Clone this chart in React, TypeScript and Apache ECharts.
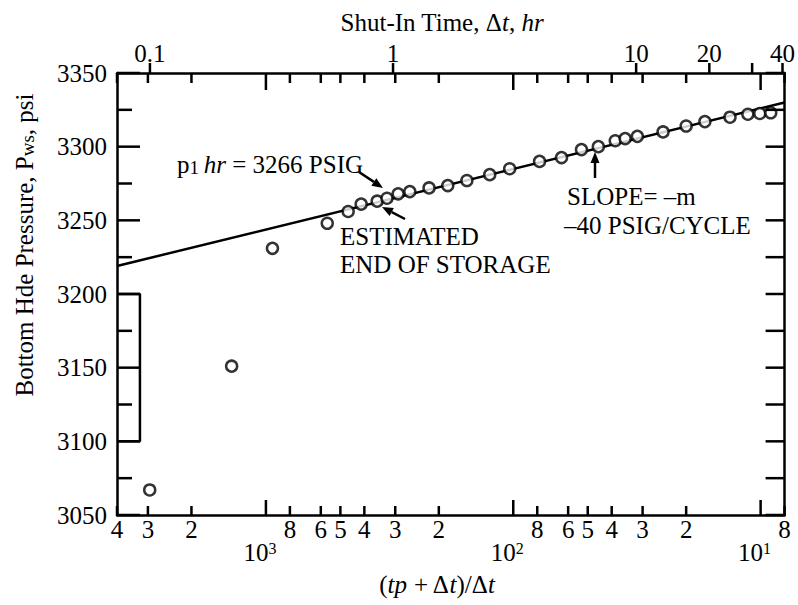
import React, { useEffect, useRef } from 'react';
import * as echarts from 'echarts';

// Horner time (tp + Δt)/Δt and shut-in bottom-hole pressure
const hornerTime = [2950, 1376, 941, 565, 465, 412, 355, 324, 292, 262, 219, 184, 154, 124.5, 103.4, 78.3, 63.8, 53.0, 45.3, 38.7, 35.3, 31.5, 24.8, 20.0, 16.8, 13.3, 11.26, 10.08, 9.1];
const pressure = [3067, 3151, 3231, 3248, 3256, 3261, 3263, 3265, 3268, 3269.5, 3272, 3273.6, 3277, 3281, 3285, 3290, 3292.6, 3298, 3300, 3304, 3305.5, 3307, 3310, 3314, 3317, 3320, 3322, 3322.5, 3323];

// Semilog straight line (slope -40 psi/cycle)
const fitLineR = [4000, 8];
const fitLineP = [3219, 3330];

// Bracket on the left
const bracketR = [4000, 3231, 3231, 4000];
const bracketP = [3200, 3200, 3100, 3100];

// Bottom axis ticks
const hornerMinorTicks = [4000, 3000, 2000, 800, 600, 500, 400, 300, 200, 80, 60, 50, 40, 30, 20, 8];
const hornerMinorLabels = ['4', '3', '2', '8', '6', '5', '4', '3', '2', '8', '6', '5', '4', '3', '2', '8'];
const hornerDecadeTicks = [1000, 100, 10];
const hornerDecadeExponents = ['3', '2', '1'];

// Top axis (shut-in time)
const shutInTicks = [0.1, 1, 10, 20, 30, 40];
const shutInLabelValues = [0.1, 1, 10, 20, 40];
const shutInLabels = ['0.1', '1', '10', '20', '40'];

// Pressure axis ticks
const pressureMajorTicks = [3050, 3100, 3150, 3200, 3250, 3300, 3350];
const pressureMinorTicks = [3075, 3125, 3175, 3225, 3275, 3325];

const pressureMin = 3050;
const pressureMax = 3350;
const pressureStep = 50;
const hornerMin = 8;
const hornerMax = 4000;
const shutInMin = 0.0732;
const shutInMax = 40.8;

const FONT = "'Liberation Serif', 'Times New Roman', serif";
const FS = 25;
const BLACK = '#000';

function lookup(values: number[], labels: string[]) {
  return (v: number) => {
    const i = values.findIndex((x) => Math.abs(x - v) / x < 1e-6);
    return i >= 0 ? labels[i] : '';
  };
}

function seg(x1: number, y1: number, x2: number, y2: number, color = BLACK) {
  return { type: 'line', silent: true, z: 50, shape: { x1, y1, x2, y2 }, style: { stroke: color, lineWidth: 2.5 } };
}

function arrow(x1: number, y1: number, x2: number, y2: number) {
  const dx = x2 - x1;
  const dy = y2 - y1;
  const len = Math.sqrt(dx * dx + dy * dy);
  const ux = dx / len;
  const uy = dy / len;
  const hl = 11;
  const hw = 4.5;
  const bx = x2 - ux * hl;
  const by = y2 - uy * hl;
  return [
    seg(x1, y1, bx, by),
    {
      type: 'polygon',
      z: 50,
      shape: { points: [[x2, y2], [bx - uy * hw, by + ux * hw], [bx + uy * hw, by - ux * hw]] },
      style: { fill: BLACK },
    },
  ];
}

const baseText = { fontFamily: FONT, fontSize: FS, color: BLACK };
const richBase = {
  n: { fontFamily: FONT, fontSize: FS, fill: BLACK },
  i: { fontFamily: FONT, fontSize: FS, fontStyle: 'italic', fill: BLACK },
  sub: { fontFamily: FONT, fontSize: 19, fill: BLACK, verticalAlign: 'bottom' },
};

export default function App() {
  const ref = useRef<HTMLDivElement>(null);
  useEffect(() => {
    if (!ref.current) return;
    const chart = echarts.init(ref.current, undefined, { renderer: 'svg' });
    const logBottom = {
      type: 'log',
      logBase: 10,
      inverse: true,
      min: hornerMin,
      max: hornerMax,
      splitLine: { show: false },
      minorTick: { show: false },
      minorSplitLine: { show: false },
      axisTick: { show: false },
    };
    chart.setOption({
      animation: false,
      grid: { left: 117, right: 12, top: 73, bottom: 90 },
      xAxis: [
        {
          ...logBottom,
          position: 'bottom',
          axisLine: { show: true, lineStyle: { color: BLACK, width: 2.5 } },
          axisLabel: {
            show: true,
            customValues: hornerMinorTicks,
            formatter: lookup(hornerMinorTicks, hornerMinorLabels),
            margin: 2,
            ...baseText,
          },
        },
        {
          ...logBottom,
          position: 'bottom',
          axisLine: { show: false },
          axisLabel: {
            show: true,
            customValues: hornerDecadeTicks,
            formatter: (v: number) => `{b|10}{s|${lookup(hornerDecadeTicks, hornerDecadeExponents)(v)}}`,
            margin: 25,
            padding: [0, 12, 0, 0],
            rich: {
              b: { fontFamily: FONT, fontSize: FS, color: BLACK },
              s: { fontFamily: FONT, fontSize: 16, color: BLACK, verticalAlign: 'top' },
            },
          },
        },
        {
          ...logBottom,
          position: 'top',
          axisLine: { show: true, lineStyle: { color: BLACK, width: 2.5 } },
          axisLabel: { show: false },
        },
        {
          type: 'log',
          logBase: 10,
          position: 'top',
          min: shutInMin,
          max: shutInMax,
          splitLine: { show: false },
          minorTick: { show: false },
          axisLine: { show: false },
          axisTick: { show: false },
          axisLabel: {
            show: true,
            customValues: shutInLabelValues,
            formatter: lookup(shutInLabelValues, shutInLabels),
            margin: 7,
            ...baseText,
          },
        },
      ],
      yAxis: [
        {
          type: 'value',
          position: 'left',
          min: pressureMin,
          max: pressureMax,
          interval: pressureStep,
          splitLine: { show: false },
          axisLine: { show: true, lineStyle: { color: BLACK, width: 2.5 } },
          axisTick: { show: false },
          axisLabel: { show: true, margin: 10, formatter: (v: number) => String(v), ...baseText },
        },
        {
          type: 'value',
          position: 'right',
          min: pressureMin,
          max: pressureMax,
          interval: pressureStep,
          splitLine: { show: false },
          axisLine: { show: true, lineStyle: { color: BLACK, width: 2.5 } },
          axisTick: { show: false },
          axisLabel: { show: false },
        },
      ],
      series: [
        {
          type: 'line',
          data: fitLineR.map((r, i) => [r, fitLineP[i]]),
          symbol: 'none',
          showSymbol: false,
          lineStyle: { color: BLACK, width: 2.5 },
          silent: true,
          z: 2,
        },
        {
          type: 'line',
          data: bracketR.map((r, i) => [r, bracketP[i]]),
          symbol: 'none',
          showSymbol: false,
          lineStyle: { color: BLACK, width: 2.5 },
          silent: true,
          z: 2,
        },
        {
          type: 'scatter',
          data: hornerTime.map((r, i) => [r, pressure[i]]),
          symbol: 'circle',
          symbolSize: 11,
          itemStyle: { color: '#fff', borderColor: BLACK, borderWidth: 2.5 },
          z: 3,
        },
      ],
    });

    const px = (v: number) => Number(chart.convertToPixel({ xAxisIndex: 0 }, v));
    const pxTop = (v: number) => Number(chart.convertToPixel({ xAxisIndex: 3 }, v));
    const py = (p: number) => Number(chart.convertToPixel({ yAxisIndex: 0 }, p));
    const yB = py(pressureMin);
    const yT = py(pressureMax);
    const xL = px(hornerMax);
    const xR = px(hornerMin);
    const ticks: any[] = [];
    hornerMinorTicks.forEach((v) => {
      const x = px(v);
      ticks.push(seg(x, yB, x, yB - 9));
      ticks.push(seg(x, yT, x, yT + 10));
    });
    hornerDecadeTicks.forEach((v) => {
      const x = px(v);
      ticks.push(seg(x, yB, x, yB - 15));
      ticks.push(seg(x, yT, x, yT + 17));
    });
    shutInTicks.forEach((v) => {
      const x = pxTop(v);
      ticks.push(seg(x, yT, x, yT - 10));
    });
    pressureMajorTicks.forEach((p) => {
      const y = py(p);
      ticks.push(seg(xL, y, xL + 23, y));
      ticks.push(seg(xR, y, xR - 19, y));
    });
    pressureMinorTicks.forEach((p) => {
      const y = py(p);
      ticks.push(seg(xL, y, xL + 15, y));
      ticks.push(seg(xR, y, xR - 19, y));
    });

    chart.setOption({
      graphic: [
        {
          type: 'text',
          x: 442,
          y: 22,
          style: { text: '{n|Shut-In Time, Δ}{i|t}{n|, }{i|hr}', rich: richBase, align: 'center', verticalAlign: 'middle' },
        },
        {
          type: 'text',
          x: 437,
          y: 584,
          style: { text: '{n|(}{i|tp}{n| + Δ}{i|t}{n|)/Δ}{i|t}', rich: richBase, align: 'center', verticalAlign: 'middle' },
        },
        {
          type: 'text',
          x: 24,
          y: 245,
          rotation: Math.PI / 2,
          style: { text: '{n|Bottom Hde Pressure, P}{sub|ws}{n|, psi}', rich: richBase, align: 'center', verticalAlign: 'middle' },
        },
        {
          type: 'text',
          x: 177,
          y: 164,
          style: { text: '{n|p}{sub|1 }{i|hr}{n| = 3266 PSIG}', rich: richBase, align: 'left', verticalAlign: 'middle' },
        },
        {
          type: 'text',
          x: 340,
          y: 236,
          style: { text: 'ESTIMATED', fontFamily: FONT, fontSize: FS, fill: BLACK, align: 'left', verticalAlign: 'middle' },
        },
        {
          type: 'text',
          x: 340,
          y: 264,
          style: { text: 'END OF STORAGE', fontFamily: FONT, fontSize: FS, fill: BLACK, align: 'left', verticalAlign: 'middle' },
        },
        {
          type: 'text',
          x: 567,
          y: 196,
          style: { text: 'SLOPE= –m', fontFamily: FONT, fontSize: FS, fill: BLACK, align: 'left', verticalAlign: 'middle' },
        },
        {
          type: 'text',
          x: 564,
          y: 225,
          style: { text: '–40 PSIG/CYCLE', fontFamily: FONT, fontSize: FS, fill: BLACK, align: 'left', verticalAlign: 'middle' },
        },
        ...arrow(359, 172, 383, 188),
        ...arrow(405, 219, 382, 207),
        ...arrow(595, 178, 595, 152),
        ...ticks,
      ],
    });
    return () => chart.dispose();
  }, []);
  return <div ref={ref} style={{ position: 'absolute', left: 0, top: 0, width: 798, height: 605 }} />;
}
